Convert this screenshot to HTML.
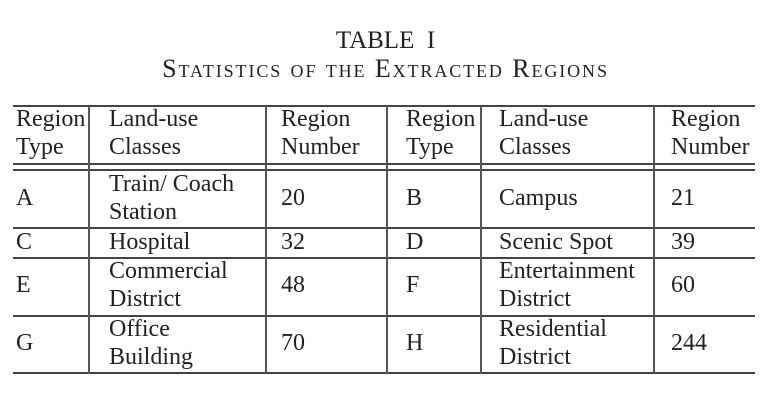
<!DOCTYPE html>
<html><head><meta charset="utf-8"><style>
body{margin:0;width:777px;height:404px;background:#fff;position:relative;overflow:hidden;font-family:"Liberation Serif",serif;color:#222}
.t{position:absolute;font-size:24px;line-height:28px;white-space:nowrap}
.h{position:absolute;height:1.5px;background:#444;left:13px;width:742px}
.v{position:absolute;width:1.5px;background:#555;top:106px;height:268px}
</style></head><body>
<div class="t" style="left:0;width:771px;text-align:center;top:27px;font-size:25px">TABLE&nbsp;&nbsp;I</div>
<div class="t" style="left:0;width:771px;text-align:center;top:55px;font-size:26px;font-variant:small-caps;letter-spacing:1.9px">Statistics of the Extracted Regions</div>
<div class="h" style="top:105px"></div>
<div class="h" style="top:163px"></div>
<div class="h" style="top:169px"></div>
<div class="h" style="top:227px"></div>
<div class="h" style="top:257px"></div>
<div class="h" style="top:315px"></div>
<div class="h" style="top:372px"></div>
<div class="v" style="left:88px"></div>
<div class="v" style="left:265px"></div>
<div class="v" style="left:386px"></div>
<div class="v" style="left:480px"></div>
<div class="v" style="left:653px"></div>

<div class="t" style="left:16px;top:105px">Region<br>Type</div>
<div class="t" style="left:109px;top:105px">Land-use<br>Classes</div>
<div class="t" style="left:281px;top:105px">Region<br>Number</div>
<div class="t" style="left:406px;top:105px">Region<br>Type</div>
<div class="t" style="left:499px;top:105px">Land-use<br>Classes</div>
<div class="t" style="left:671px;top:105px">Region<br>Number</div>

<div class="t" style="left:16px;top:184px">A</div>
<div class="t" style="left:109px;top:170px">Train/ Coach<br>Station</div>
<div class="t" style="left:281px;top:184px">20</div>
<div class="t" style="left:406px;top:184px">B</div>
<div class="t" style="left:499px;top:184px">Campus</div>
<div class="t" style="left:671px;top:184px">21</div>

<div class="t" style="left:16px;top:228px">C</div>
<div class="t" style="left:109px;top:228px">Hospital</div>
<div class="t" style="left:281px;top:228px">32</div>
<div class="t" style="left:406px;top:228px">D</div>
<div class="t" style="left:499px;top:228px">Scenic Spot</div>
<div class="t" style="left:671px;top:228px">39</div>

<div class="t" style="left:16px;top:271px">E</div>
<div class="t" style="left:109px;top:257px">Commercial<br>District</div>
<div class="t" style="left:281px;top:271px">48</div>
<div class="t" style="left:406px;top:271px">F</div>
<div class="t" style="left:499px;top:257px">Entertainment<br>District</div>
<div class="t" style="left:671px;top:271px">60</div>

<div class="t" style="left:16px;top:329px">G</div>
<div class="t" style="left:109px;top:315px">Office<br>Building</div>
<div class="t" style="left:281px;top:329px">70</div>
<div class="t" style="left:406px;top:329px">H</div>
<div class="t" style="left:499px;top:315px">Residential<br>District</div>
<div class="t" style="left:671px;top:329px">244</div>
</body></html>
